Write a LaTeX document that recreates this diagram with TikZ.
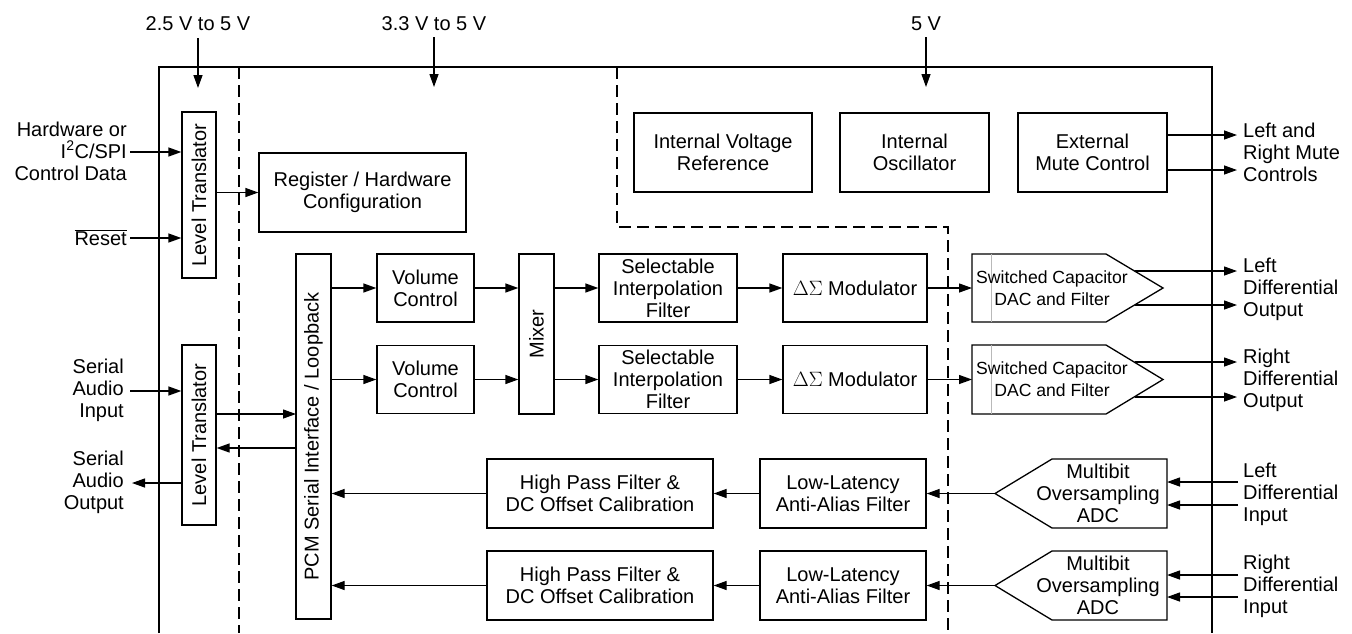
\documentclass[tikz,border=0pt]{standalone}
\usepackage{fontspec}
\setmainfont{Liberation Sans}
\usetikzlibrary{arrows.meta}
\begin{document}
\begin{tikzpicture}[x=1pt,y=-1pt, font=\fontsize{20}{22}\selectfont,
  box/.style={draw, line width=1.3pt, inner sep=0pt, align=center},
  conn/.style={line width=1.3pt, -{Triangle[length=13pt,width=9pt]}},
  wire/.style={line width=1.3pt},
  rail/.style={line width=2.6pt, dash pattern=on 12pt off 6pt},
  lbl/.style={inner sep=0pt, align=center},
  dacfont/.style={font=\fontsize{17.6}{21.7}\selectfont}]
\useasboundingbox (0,0) rectangle (1352,633);

% outer package outline
\draw[line width=2.8pt] (159,633) -- (159,67) -- (1212,67) -- (1212,633);
% supply domain separators
\draw[rail] (239,67) -- (239,633);
\draw[rail] (617,67) -- (617,227) -- (948,227) -- (948,633);

% supply labels and arrows
\node[lbl, anchor=base] (v1) at (198,30) {2.5 V to 5 V};
\node[lbl, anchor=base] (v2) at (434,30) {3.3 V to 5 V};
\node[lbl, anchor=base] (v3) at (926,30) {5 V};
\coordinate (s1a) at (198,38); \coordinate (s1b) at (198,88);
\coordinate (s2a) at (434,37); \coordinate (s2b) at (434,87);
\coordinate (s3a) at (926,37); \coordinate (s3b) at (926,87);
\draw[conn] (s1a) -- (s1b);
\draw[conn] (s2a) -- (s2b);
\draw[conn] (s3a) -- (s3b);

% level translators
\node[box, minimum width=34pt, minimum height=166pt] (lt1) at (199,195) {};
\node[lbl, rotate=90] at (lt1.center) {Level Translator};
\node[box, minimum width=34pt, minimum height=180pt] (lt2) at (199,435) {};
\node[lbl, rotate=90] at (lt2.center) {Level Translator};

% register
\node[box, minimum width=207pt, minimum height=79pt] (reg) at (362.5,192.5) {Register / Hardware\\Configuration};

% PCM interface
\node[box, minimum width=35pt, minimum height=365pt] (pcm) at (313.5,436.5) {};
\node[lbl, rotate=90] at (pcm.center) {PCM Serial Interface / Loopback};

% volume, mixer, interpolation, modulator
\node[box, minimum width=97pt, minimum height=68pt] (vc1) at (425.5,288) {Volume\\Control};
\node[box, minimum width=97pt, minimum height=68pt] (vc2) at (425.5,379.5) {Volume\\Control};
\node[box, minimum width=35pt, minimum height=160pt] (mix) at (536.5,334) {};
\node[lbl, rotate=90] at (mix.center) {Mixer};
\node[box, minimum width=138pt, minimum height=68pt] (sif1) at (668,288) {Selectable\\Interpolation\\Filter};
\node[box, minimum width=138pt, minimum height=68pt] (sif2) at (668,379.5) {Selectable\\Interpolation\\Filter};
\node[box, minimum width=144pt, minimum height=68pt] (dsm1) at (855,288) {$\Delta\Sigma$ Modulator};
\node[box, minimum width=144pt, minimum height=68pt] (dsm2) at (855,379.5) {$\Delta\Sigma$ Modulator};

% 5 V blocks
\node[box, minimum width=178pt, minimum height=79pt] (ivr) at (723,152.5) {Internal Voltage\\Reference};
\node[box, minimum width=149pt, minimum height=79pt] (osc) at (914.5,152.5) {Internal\\Oscillator};
\node[box, minimum width=149pt, minimum height=79pt] (mute) at (1092.5,152.5) {External\\Mute Control};

% DACs
\draw[wire] (972,254) -- (1106,254) -- (1163,288) -- (1106,322) -- (972,322) -- cycle;
\draw[gray!55, line width=1pt] (991,254) -- (991,322);
\node[lbl, dacfont] (dac1) at (1052,288) {Switched Capacitor\\DAC and Filter};
\draw[wire] (972,345) -- (1106,345) -- (1163,379.5) -- (1106,414) -- (972,414) -- cycle;
\draw[gray!55, line width=1pt] (991,345) -- (991,414);
\node[lbl, dacfont] (dac2) at (1052,379.5) {Switched Capacitor\\DAC and Filter};
\coordinate (dac1in) at (972,288);
\coordinate (dac2in) at (972,379.5);
\coordinate (dac1o1) at (1134.5,271); \coordinate (lo1) at (1237,271);
\coordinate (dac1o2) at (1134.5,305); \coordinate (lo2) at (1237,305);
\coordinate (dac2o1) at (1134.5,362); \coordinate (ro1) at (1237,362);
\coordinate (dac2o2) at (1134.5,397); \coordinate (ro2) at (1237,397);

% ADC path
\node[box, minimum width=226pt, minimum height=69pt] (hpf1) at (600,493.5) {High Pass Filter \&\\DC Offset Calibration};
\node[box, minimum width=226pt, minimum height=69pt] (hpf2) at (600,585.5) {High Pass Filter \&\\DC Offset Calibration};
\node[box, minimum width=166pt, minimum height=69pt] (ll1) at (843,493.5) {Low-Latency\\Anti-Alias Filter};
\node[box, minimum width=166pt, minimum height=69pt] (ll2) at (843,585.5) {Low-Latency\\Anti-Alias Filter};
\draw[wire] (995,493.5) -- (1052,459) -- (1167,459) -- (1167,528) -- (1052,528) -- cycle;
\node[lbl] (adc1) at (1098,493) {Multibit\\Oversampling\\ADC};
\draw[wire] (995,585.5) -- (1052,551) -- (1167,551) -- (1167,620) -- (1052,620) -- cycle;
\node[lbl] (adc2) at (1098,585) {Multibit\\Oversampling\\ADC};
\coordinate (adc1tip) at (995,493.5);
\coordinate (adc2tip) at (995,585.5);
\coordinate (adc1e) at (1167,493.5);
\coordinate (adc2e) at (1167,585.5);
\coordinate (li1) at (1238,482); \coordinate (li2) at (1238,505);
\coordinate (ri1) at (1238,575); \coordinate (ri2) at (1238,597);

% external labels left
\node[lbl, align=right, anchor=east] (hw) at (127,151) {Hardware or\\I\textsuperscript{2}C/SPI\\Control Data};
\node[lbl, anchor=east] (rst) at (127,238) {$\overline{\mbox{Reset}}$};
\node[lbl, align=right, anchor=east] (sai) at (124,390) {Serial\\Audio\\Input};
\node[lbl, align=right, anchor=east] (sao) at (124,482) {Serial\\Audio\\Output};
\coordinate (hwin) at (130,152);
\coordinate (rstin) at (130,238);
\coordinate (saiin) at (130,391);
\coordinate (saoout) at (132,483);
\coordinate (pcmin) at (296,414);
\coordinate (pcmout) at (296,448);

% external labels right
\node[lbl, align=left, anchor=west] (mlab) at (1243,152) {Left and\\Right Mute\\Controls};
\node[lbl, align=left, anchor=west] (lol) at (1243,289) {Left\\Differential\\Output};
\node[lbl, align=left, anchor=west] (rol) at (1243,380) {Right\\Differential\\Output};
\node[lbl, align=left, anchor=west] (lil) at (1243,494) {Left\\Differential\\Input};
\node[lbl, align=left, anchor=west] (ril) at (1243,586) {Right\\Differential\\Input};
\coordinate (mo1) at (1237,135);
\coordinate (mo2) at (1237,170);

% connectors: control
\draw[conn] (hwin) -- (lt1.west |- hwin);
\draw[conn] (rstin) -- (lt1.west |- rstin);
\draw[conn] (lt1.east |- reg.west) -- (reg.west);
% connectors: serial audio
\draw[conn] (saiin) -- (lt2.west |- saiin);
\draw[conn] (lt2.west |- saoout) -- (saoout);
\draw[conn] (lt2.east |- pcmin) -- (pcmin);
\draw[conn] (pcmout) -- (lt2.east |- pcmout);
% DAC path
\draw[conn] (pcm.east |- vc1.west) -- (vc1.west);
\draw[conn] (pcm.east |- vc2.west) -- (vc2.west);
\draw[conn] (vc1.east) -- (vc1.east -| mix.west);
\draw[conn] (vc2.east) -- (vc2.east -| mix.west);
\draw[conn] (mix.east |- sif1.west) -- (sif1.west);
\draw[conn] (mix.east |- sif2.west) -- (sif2.west);
\draw[conn] (sif1.east) -- (dsm1.west);
\draw[conn] (sif2.east) -- (dsm2.west);
\draw[conn] (dsm1.east) -- (dac1in);
\draw[conn] (dsm2.east) -- (dac2in);
\draw[conn] (dac1o1) -- (lo1);
\draw[conn] (dac1o2) -- (lo2);
\draw[conn] (dac2o1) -- (ro1);
\draw[conn] (dac2o2) -- (ro2);
% mute
\draw[conn] (mute.east |- mo1) -- (mo1);
\draw[conn] (mute.east |- mo2) -- (mo2);
% ADC path
\draw[conn] (li1) -- (adc1e |- li1);
\draw[conn] (li2) -- (adc1e |- li2);
\draw[conn] (ri1) -- (adc2e |- ri1);
\draw[conn] (ri2) -- (adc2e |- ri2);
\draw[conn] (adc1tip) -- (ll1.east);
\draw[conn] (adc2tip) -- (ll2.east);
\draw[conn] (ll1.west) -- (hpf1.east);
\draw[conn] (ll2.west) -- (hpf2.east);
\draw[conn] (hpf1.west) -- (hpf1.west -| pcm.east);
\draw[conn] (hpf2.west) -- (hpf2.west -| pcm.east);
\end{tikzpicture}
\end{document}
